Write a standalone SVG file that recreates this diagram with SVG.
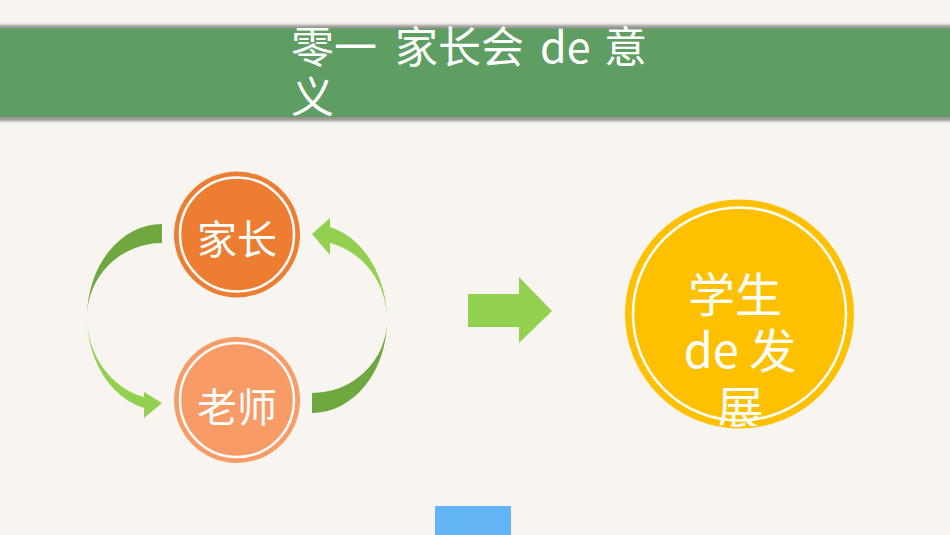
<svg xmlns="http://www.w3.org/2000/svg" width="950" height="535" viewBox="0 0 950 535">
<style>
.t{font-family:"Noto Sans CJK SC","Noto Sans",sans-serif;fill:#FFFFFF}
.ring{fill:none;stroke:#FFFFFF;stroke-width:2.5}
.dark{fill:#70A840}
.light{fill:#92D050}
</style>
<defs>
<filter id="sh" x="-5%" y="-20%" width="110%" height="140%">
<feGaussianBlur stdDeviation="1.6"/>
</filter>
<clipPath id="cc"><circle cx="739.5" cy="314" r="113"/></clipPath>
</defs>
<rect width="950" height="535" fill="#F8F5F0"/>
<g id="header">
<rect x="-10" y="25" width="970" height="96" fill="#555555" opacity="0.6" filter="url(#sh)"/>
<rect x="0" y="28.5" width="950" height="88.5" fill="#5E9E62"/>
<text class="t" font-size="43"><tspan x="291" y="63">零一 </tspan><tspan x="395" y="63">家长会 </tspan><tspan x="540" y="63">de </tspan><tspan x="604" y="63">意</tspan><tspan x="291" y="113">义</tspan></text>
</g>
<g id="connectors">
<path class="dark" d="M162,224 A75,93 0 0,0 87,317 A75,74 0 0,1 162,243 Z"/>
<path class="light" d="M87,317 A75,93.7 0 0,0 144,408 L144,418 L162,403 L144,392 L144,397 A75,82.4 0 0,1 87,317 Z"/>
<path class="dark" d="M312,413 A75,93 0 0,0 387,320 A75,73 0 0,1 312,393 Z"/>
<path class="light" d="M387,320 A75,96 0 0,0 330,227 L330,218 L312,234 L330,255 L330,243 A75,79.3 0 0,1 387,320 Z"/>
<polygon class="light" points="468,294 519,294 519,277 552,311 519,343 519,327 468,327"/>
</g>
<g id="node-parent">
<circle cx="237" cy="234.5" r="63" fill="#ED7D31"/>
<circle class="ring" cx="237" cy="234.5" r="57"/>
<text class="t" font-size="40" x="237" y="254" text-anchor="middle">家长</text>
</g>
<g id="node-teacher">
<circle cx="237" cy="400" r="63" fill="#F99B66"/>
<circle class="ring" cx="237" cy="400" r="57"/>
<text class="t" font-size="40" x="237" y="422" text-anchor="middle">老师</text>
</g>
<g id="node-student">
<circle cx="739.5" cy="314" r="114.5" fill="#FFC000"/>
<circle class="ring" cx="739.5" cy="314" r="106.5"/>
<g clip-path="url(#cc)">
<text class="t" font-size="47" text-anchor="middle"><tspan x="735" y="312">学生</tspan><tspan x="740" y="368">de 发</tspan><tspan x="740" y="425">展</tspan></text>
</g>
</g>
<rect id="footer-bar" x="435" y="506" width="76" height="29" fill="#64B5F6"/>
</svg>
